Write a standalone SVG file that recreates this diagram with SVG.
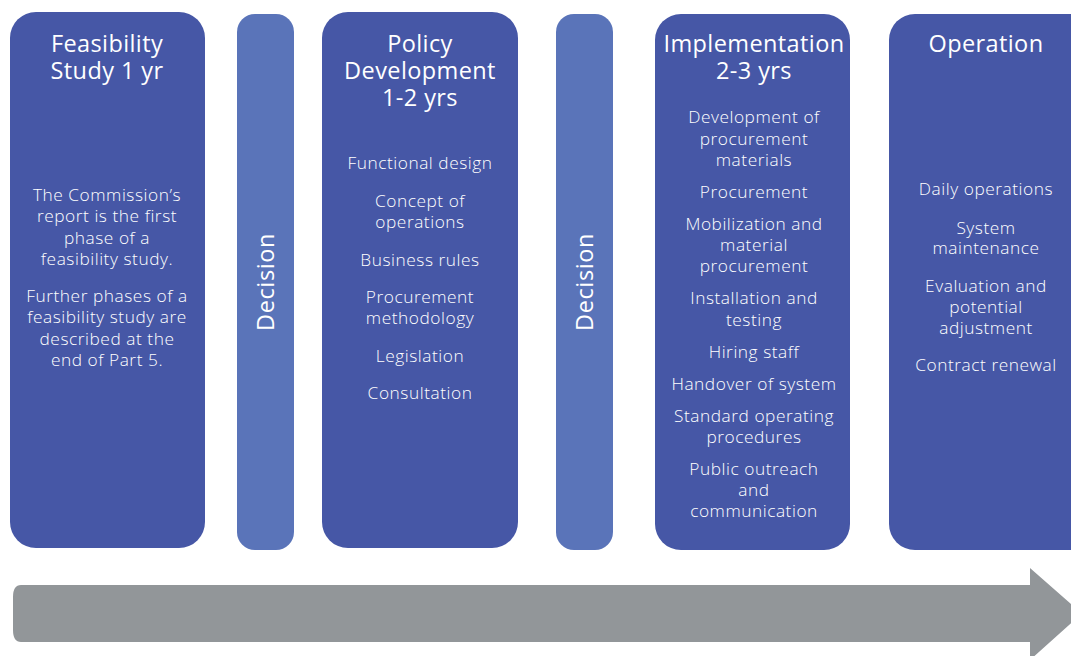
<svg xmlns="http://www.w3.org/2000/svg" width="1071" height="656" viewBox="0 0 1071 656">
<style>
.col{fill:#4657A6}
.dec{fill:#5A74B9}
text{font-family:"Open Sans","Liberation Sans",sans-serif;fill:#FFFFFF;text-anchor:middle}
.t{font-size:23.5px;font-weight:500;letter-spacing:0.4px}
.b{font-size:17.3px;font-weight:300;letter-spacing:0.55px}
.d{font-size:23.5px;font-weight:500;letter-spacing:0.6px}
</style>
<g id="connectors">
<path d="M21,585 L1030,585 L1030,568 L1082,613.5 L1030,660 L1030,642 L21,642 Q13,642 13,630 L13,597 Q13,585 21,585 Z" fill="#929699"/>
</g>
<g id="feasibility">
<rect class="col" x="10" y="12" width="195" height="536" rx="26"/>
<text class="t" x="107" y="52">Feasibility</text>
<text class="t" x="107" y="79">Study 1 yr</text>
<text class="b" x="107" y="201">The Commission’s</text>
<text class="b" x="107" y="222">report is the first</text>
<text class="b" x="107" y="244">phase of a</text>
<text class="b" x="107" y="265">feasibility study.</text>
<text class="b" x="107" y="302">Further phases of a</text>
<text class="b" x="107" y="323">feasibility study are</text>
<text class="b" x="107" y="345">described at the</text>
<text class="b" x="107" y="366">end of Part 5.</text>
</g>
<g id="decision1">
<rect class="dec" x="237" y="14" width="57" height="536" rx="18"/>
<text class="d" transform="translate(274,282) rotate(-90)">Decision</text>
</g>
<g id="policy">
<rect class="col" x="322" y="12" width="196" height="536" rx="26"/>
<text class="t" x="420" y="52">Policy</text>
<text class="t" x="420" y="79">Development</text>
<text class="t" x="420" y="106">1-2 yrs</text>
<text class="b" x="420" y="169">Functional design</text>
<text class="b" x="420" y="207">Concept of</text>
<text class="b" x="420" y="228">operations</text>
<text class="b" x="420" y="266">Business rules</text>
<text class="b" x="420" y="303">Procurement</text>
<text class="b" x="420" y="324">methodology</text>
<text class="b" x="420" y="362">Legislation</text>
<text class="b" x="420" y="399">Consultation</text>
</g>
<g id="decision2">
<rect class="dec" x="556" y="14" width="57" height="536" rx="18"/>
<text class="d" transform="translate(593,282) rotate(-90)">Decision</text>
</g>
<g id="implementation">
<rect class="col" x="655" y="14" width="195" height="536" rx="26"/>
<text class="t" x="754" y="52">Implementation</text>
<text class="t" x="754" y="79">2-3 yrs</text>
<text class="b" x="754" y="123">Development of</text>
<text class="b" x="754" y="145">procurement</text>
<text class="b" x="754" y="166">materials</text>
<text class="b" x="754" y="198">Procurement</text>
<text class="b" x="754" y="230">Mobilization and</text>
<text class="b" x="754" y="251">material</text>
<text class="b" x="754" y="272">procurement</text>
<text class="b" x="754" y="304">Installation and</text>
<text class="b" x="754" y="326">testing</text>
<text class="b" x="754" y="358">Hiring staff</text>
<text class="b" x="754" y="390">Handover of system</text>
<text class="b" x="754" y="422">Standard operating</text>
<text class="b" x="754" y="443">procedures</text>
<text class="b" x="754" y="475">Public outreach</text>
<text class="b" x="754" y="496">and</text>
<text class="b" x="754" y="517">communication</text>
</g>
<g id="operation">
<rect class="col" x="889" y="14" width="215" height="536" rx="26"/>
<text class="t" x="986" y="52">Operation</text>
<text class="b" x="986" y="195">Daily operations</text>
<text class="b" x="986" y="234">System</text>
<text class="b" x="986" y="254">maintenance</text>
<text class="b" x="986" y="292">Evaluation and</text>
<text class="b" x="986" y="313">potential</text>
<text class="b" x="986" y="334">adjustment</text>
<text class="b" x="986" y="371">Contract renewal</text>
</g>
</svg>
